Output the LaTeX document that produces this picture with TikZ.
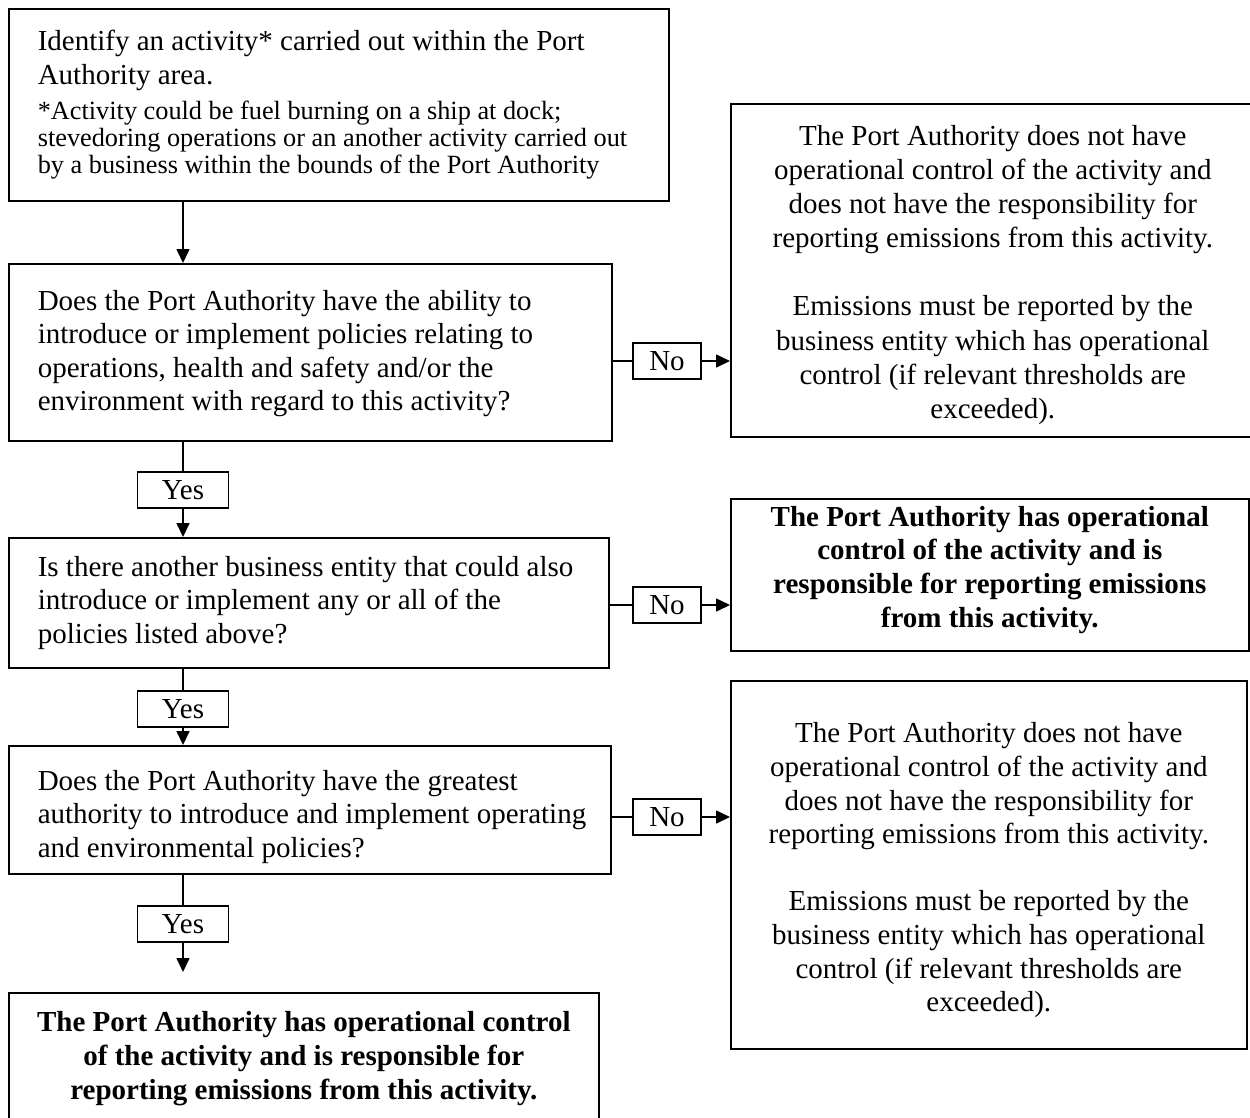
\documentclass[tikz,border=0pt]{standalone}
\usepackage{fontspec}
\setmainfont{Liberation Serif}
\usetikzlibrary{arrows.meta,calc}
\begin{document}
\begin{tikzpicture}[x=1pt,y=-1pt,
  box/.style={draw,line width=1.6pt,inner ysep=0pt,inner xsep=0pt,anchor=north west,
    font=\fontsize{29}{33.5}\selectfont},
  lbox/.style={box,align=flush left},
  cbox/.style={box,align=flush center,font=\fontsize{29}{34.2}\selectfont},
  lab/.style={draw,line width=1.6pt,inner sep=0pt,font=\fontsize{29}{33.5}\selectfont},
  ylab/.style={lab,minimum width=91pt,minimum height=36pt},
  nlab/.style={lab,minimum width=68pt,minimum height=36pt},
  arr/.style={line width=1.6pt,-{Triangle[length=14pt,width=13pt]}},
  ln/.style={line width=1.6pt}]
\useasboundingbox (0,0) rectangle (1250,1117);

% left column
\node[lbox,text width=660pt,minimum width=660pt,minimum height=192pt] (A) at (8,8)
  {\leftskip=29pt Identify an activity* carried out within the Port\\ Authority area.\par\vspace{8pt}
   \fontsize{26.3}{27.2}\selectfont\leftskip=29pt *Activity could be fuel burning on a ship at dock;\\
   stevedoring operations or an another activity carried out\\
   by a business within the bounds of the Port Authority\par};
\node[lbox,text width=603pt,minimum width=603pt,minimum height=177pt] (B) at (8,263)
  {\leftskip=29pt Does the Port Authority have the ability to\\
   introduce or implement policies relating to\\
   operations, health and safety and/or the\\
   environment with regard to this activity?\par\kern-3pt\relax};
\node[lbox,text width=600pt,minimum width=600pt,minimum height=130pt] (C) at (8,537)
  {\leftskip=29pt Is there another business entity that could also\\
   introduce or implement any or all of the\\
   policies listed above?\par};
\node[lbox,text width=602pt,minimum width=602pt,minimum height=128pt] (D) at (8,745)
  {\leftskip=29pt Does the Port Authority have the greatest\\
   authority to introduce and implement operating\\
   and environmental policies?\par\kern-14pt\relax};
\node[cbox,text width=590pt,minimum width=590pt,minimum height=132pt,
      font=\fontsize{29}{34}\selectfont\bfseries] (E) at (8,992)
  {The Port Authority has operational control\\
   of the activity and is responsible for\\
   reporting emissions from this activity.};

% right column
\node[cbox,text width=524pt,minimum width=524pt,minimum height=333pt] (R1) at (730,103)
  {The Port Authority does not have\\
   operational control of the activity and\\
   does not have the responsibility for\\
   reporting emissions from this activity.\\[34pt]
   Emissions must be reported by the\\
   business entity which has operational\\
   control (if relevant thresholds are\\
   exceeded).\par\kern-9pt\relax};
\node[cbox,text width=518pt,minimum width=518pt,minimum height=152pt,
      font=\fontsize{29}{33.8}\selectfont\bfseries] (R2) at (730,498)
  {The Port Authority has operational\\
   control of the activity and is\\
   responsible for reporting emissions\\
   from this activity.\par\kern10pt\relax};
\node[cbox,text width=516pt,minimum width=516pt,minimum height=368pt,
      font=\fontsize{29}{33.6}\selectfont] (R3) at (730,680)
  {The Port Authority does not have\\
   operational control of the activity and\\
   does not have the responsibility for\\
   reporting emissions from this activity.\\[33.6pt]
   Emissions must be reported by the\\
   business entity which has operational\\
   control (if relevant thresholds are\\
   exceeded).\par\kern-11pt\relax};

% labels
\node[ylab] (Y1) at (183,490) {Yes};
\node[ylab] (Y2) at (183,709) {Yes};
\node[ylab] (Y3) at (183,924) {Yes};
\node[nlab] (N1) at (667,361) {No};
\node[nlab] (N2) at (667,605) {No};
\node[nlab] (N3) at (667,817) {No};

\coordinate (e3) at ($(E.north -| Y3)+(0,-20)$);

% connectors
\draw[arr] (A.south -| Y1) -- (B.north -| Y1);
\draw[ln] (B.south -| Y1) -- (Y1.north);
\draw[arr] (Y1.south) -- (C.north -| Y1);
\draw[ln] (C.south -| Y2) -- (Y2.north);
\draw[arr] (Y2.south) -- (D.north -| Y2);
\draw[ln] (D.south -| Y3) -- (Y3.north);
\draw[arr] (Y3.south) -- (e3);
\draw[ln] (B.east |- N1) -- (N1.west);
\draw[arr] (N1.east) -- (R1.west |- N1);
\draw[ln] (C.east |- N2) -- (N2.west);
\draw[arr] (N2.east) -- (R2.west |- N2);
\draw[ln] (D.east |- N3) -- (N3.west);
\draw[arr] (N3.east) -- (R3.west |- N3);
\end{tikzpicture}
\end{document}
